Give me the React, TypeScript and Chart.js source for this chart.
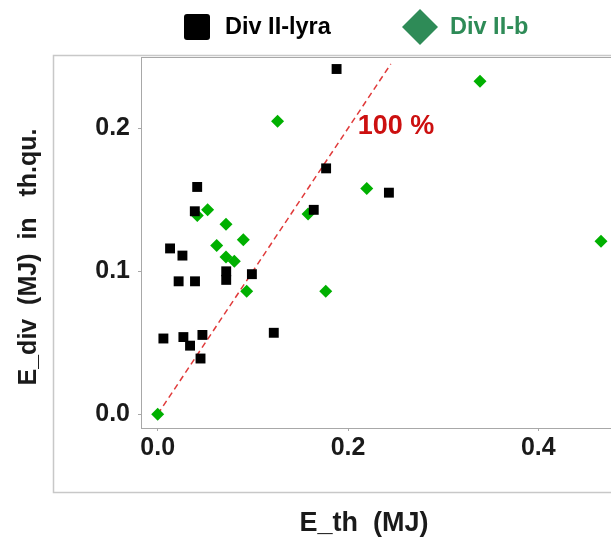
import React, { useEffect, useRef } from "react";
import { Chart, registerables } from "chart.js";
Chart.register(...registerables);

const seriesNames = ["Div II-lyra", "Div II-b"];
const lyraX = [0.188, 0.177, 0.243, 0.164, 0.0415, 0.039, 0.013, 0.026, 0.022, 0.0392, 0.072, 0.072, 0.099, 0.006, 0.027, 0.034, 0.047, 0.045, 0.122];
const lyraY = [0.2415, 0.172, 0.155, 0.143, 0.159, 0.142, 0.116, 0.111, 0.093, 0.093, 0.1, 0.094, 0.098, 0.053, 0.054, 0.048, 0.0555, 0.039, 0.057];
const bX = [0, 0.0525, 0.0416, 0.0718, 0.09, 0.062, 0.0718, 0.0805, 0.0935, 0.158, 0.1766, 0.126, 0.2197, 0.3387, 0.4659];
const bY = [0, 0.143, 0.139, 0.133, 0.122, 0.118, 0.11, 0.107, 0.086, 0.14, 0.086, 0.205, 0.158, 0.233, 0.121];
const refLineX = [0, 0.245];
const refLineY = [0, 0.245];
const refLabel = "100 %";
const refLabelPos = [0.2504, 0.2016];
const xTicks = [0, 0.2, 0.4];
const yTicks = [0, 0.1, 0.2];
const xTitle = "E_th  (MJ)";
const yTitle = "E_div  (MJ)  in   th.qu.";

const FONT = "'Liberation Sans', Arial, Helvetica, sans-serif";
const LYRA_COLOR = "#000000";
const B_COLOR = "#00b000";
const B_LEGEND_COLOR = "#2e8b57";

export default function App() {
  const ref = useRef<HTMLCanvasElement>(null);
  useEffect(() => {
    const canvas = ref.current!;
    const decor = {
      id: "decor",
      beforeDraw(chart: any) {
        const ctx = chart.ctx;
        const a = chart.chartArea;
        ctx.save();
        ctx.fillStyle = "#ffffff";
        ctx.fillRect(0, 0, chart.width, chart.height);
        ctx.strokeStyle = "#c8c8c8";
        ctx.lineWidth = 1.5;
        ctx.strokeRect(53.5, 55.5, 800, 437);
        ctx.strokeStyle = "#a8a8a8";
        ctx.lineWidth = 1;
        ctx.strokeRect(a.left + 0.5, a.top + 0.5, a.right - a.left + 50, a.bottom - a.top);
        ctx.restore();
      },
      afterDraw(chart: any) {
        const ctx = chart.ctx;
        const xs = chart.scales.x;
        const ys = chart.scales.y;
        ctx.save();
        // reference label
        ctx.fillStyle = "#cc1010";
        ctx.font = `bold 27px ${FONT}`;
        ctx.textAlign = "center";
        ctx.textBaseline = "middle";
        ctx.fillText(refLabel, xs.getPixelForValue(refLabelPos[0]), ys.getPixelForValue(refLabelPos[1]));
        // axis titles
        ctx.fillStyle = "#1a1a1a";
        ctx.font = `bold 27px ${FONT}`;
        ctx.fillText(xTitle, 364, 524);
        ctx.save();
        ctx.translate(29, 257);
        ctx.rotate(-Math.PI / 2);
        ctx.font = `bold 25px ${FONT}`;
        ctx.fillText(yTitle, 0, 0);
        ctx.restore();
        // legend
        ctx.fillStyle = LYRA_COLOR;
        ctx.beginPath();
        ctx.roundRect(184, 14, 26, 26, 3);
        ctx.fill();
        ctx.textAlign = "left";
        ctx.font = `bold 23.5px ${FONT}`;
        ctx.fillText(seriesNames[0], 225, 28);
        ctx.fillStyle = B_LEGEND_COLOR;
        ctx.beginPath();
        ctx.moveTo(420, 9);
        ctx.lineTo(438, 27);
        ctx.lineTo(420, 45);
        ctx.lineTo(402, 27);
        ctx.closePath();
        ctx.fill();
        ctx.fillText(seriesNames[1], 450, 28);
        ctx.restore();
      },
    };
    const tickFont = { family: FONT, size: 25, weight: "bold" as const };
    const chart = new Chart(canvas, {
      type: "scatter",
      data: {
        datasets: [
          {
            label: seriesNames[0],
            data: lyraX.map((x, i) => ({ x, y: lyraY[i] })),
            pointStyle: "rect",
            pointRadius: 7,
            backgroundColor: LYRA_COLOR,
            borderColor: LYRA_COLOR,
            borderWidth: 0,
            order: 1,
          },
          {
            label: seriesNames[1],
            data: bX.map((x, i) => ({ x, y: bY[i] })),
            pointStyle: "rectRot",
            pointRadius: 6.5,
            backgroundColor: B_COLOR,
            borderColor: B_COLOR,
            borderWidth: 0,
            order: 2,
          },
          {
            type: "line",
            label: refLabel,
            data: refLineX.map((x, i) => ({ x, y: refLineY[i] })),
            borderColor: "#e03a3a",
            borderWidth: 1.5,
            borderDash: [6, 4],
            pointRadius: 0,
            fill: false,
            order: 3,
          } as any,
        ],
      },
      options: {
        animation: false,
        responsive: false,
        layout: { autoPadding: false, padding: { top: 57, left: 0, right: 0, bottom: 0 } },
        plugins: { legend: { display: false }, tooltip: { enabled: false } },
        scales: {
          x: {
            type: "linear",
            min: -0.01755,
            max: 0.4764,
            afterFit: (s: any) => { s.height = 111; s.paddingLeft = 0; s.paddingRight = 0; },
            afterBuildTicks: (s: any) => { s.ticks = xTicks.map((v) => ({ value: v })); },
            ticks: { font: tickFont, color: "#1a1a1a", padding: 2, maxRotation: 0, autoSkip: false, callback: (v: any) => Number(v).toFixed(1) },
            grid: { drawOnChartArea: false, drawTicks: true, tickLength: 3, color: "#a8a8a8" },
            border: { display: false },
          },
          y: {
            type: "linear",
            min: -0.0096,
            max: 0.2499,
            afterFit: (s: any) => { s.width = 141; s.paddingTop = 0; s.paddingBottom = 0; },
            afterBuildTicks: (s: any) => { s.ticks = yTicks.map((v) => ({ value: v })); },
            ticks: { font: tickFont, color: "#1a1a1a", padding: 8, autoSkip: false, callback: (v: any) => Number(v).toFixed(1) },
            grid: { drawOnChartArea: false, drawTicks: true, tickLength: 3, color: "#a8a8a8" },
            border: { display: false },
          },
        },
      },
      plugins: [decor],
    });
    return () => chart.destroy();
  }, []);
  return (
    <div style={{ position: "absolute", left: 0, top: 0, width: 611, height: 539, overflow: "hidden", background: "#fff" }}>
      <canvas ref={ref} width={611} height={539} style={{ display: "block" }} />
    </div>
  );
}
